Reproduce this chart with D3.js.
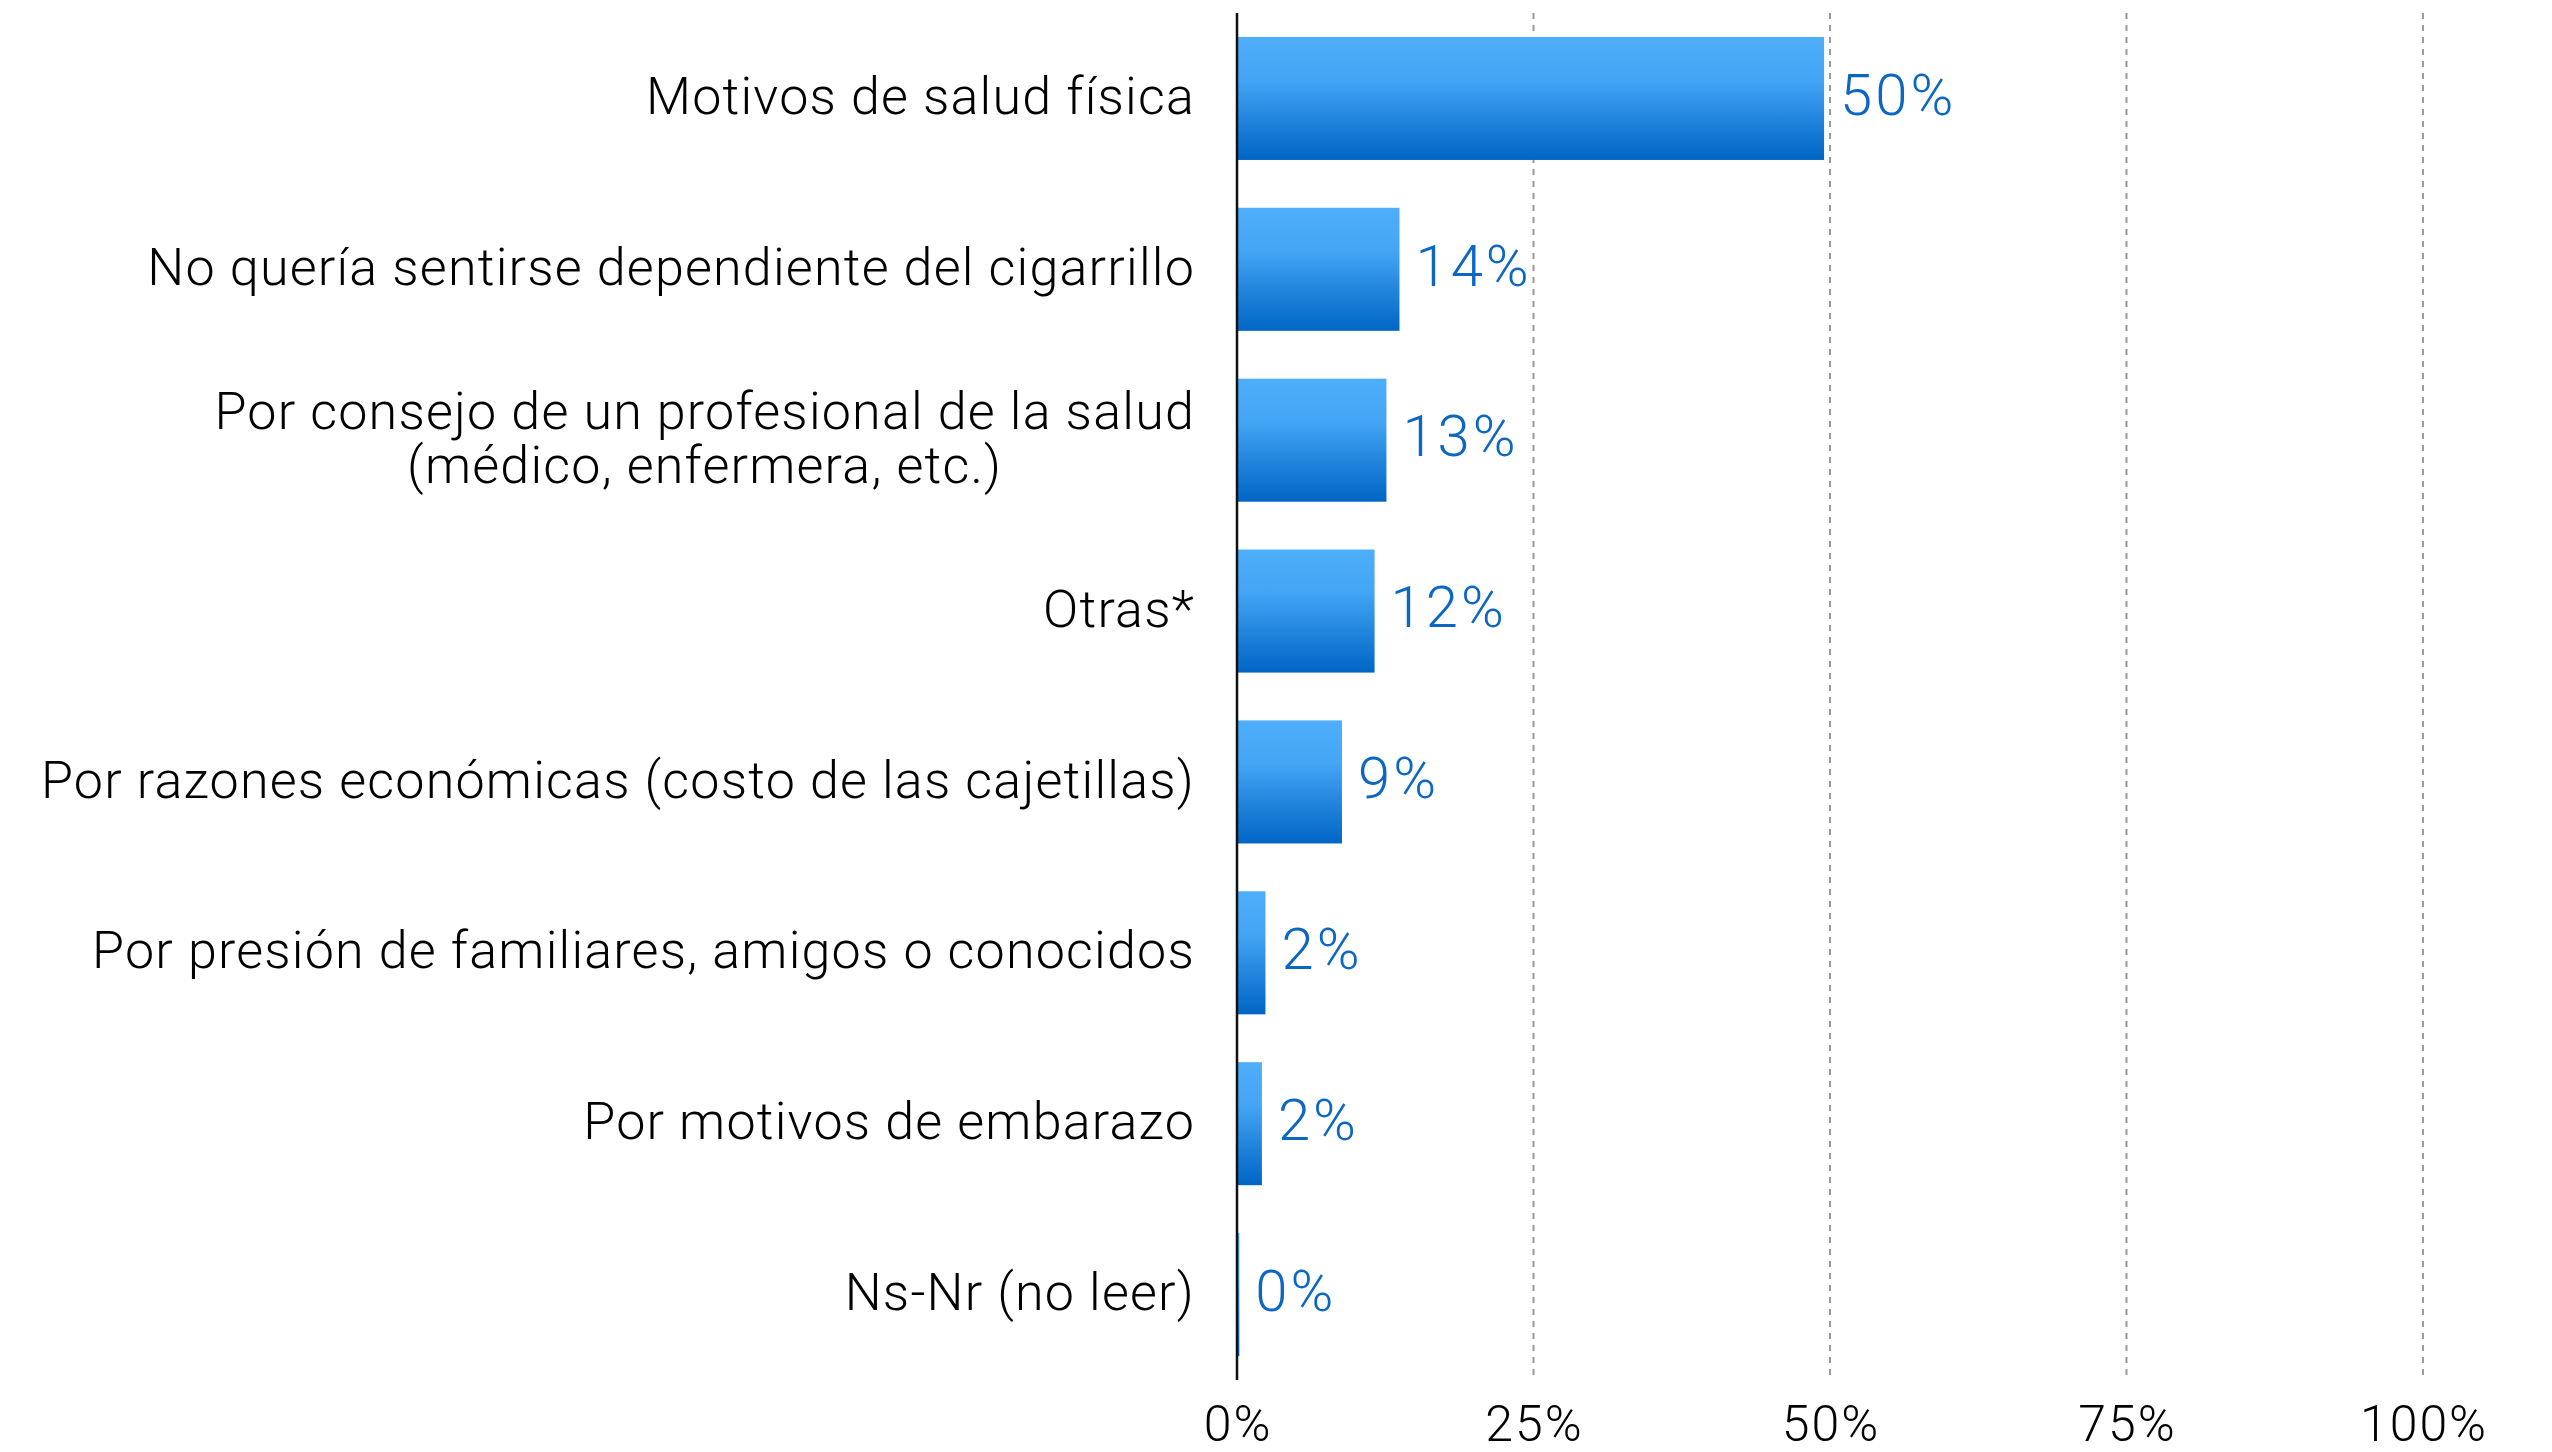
<!DOCTYPE html>
<html>
<head>
<meta charset="utf-8">
<script src="https://cdn.jsdelivr.net/npm/d3@7"></script>
<style>
  html, body { margin: 0; padding: 0; background: #fff; }
  svg { display: block; }
  text { font-family: Roboto, "Liberation Sans", sans-serif; font-weight: 300; }
</style>
</head>
<body>
<svg id="chart"></svg>
<script>
// reasons for quitting smoking
const categories = [
    ['Motivos de salud física'],
    ['No quería sentirse dependiente del cigarrillo'],
    ['Por consejo de un profesional de la salud', '(médico, enfermera, etc.)'],
    ['Otras*'],
    ['Por razones económicas (costo de las cajetillas)'],
    ['Por presión de familiares, amigos o conocidos'],
    ['Por motivos de embarazo'],
    ['Ns-Nr (no leer)']
];
const values = [49.5, 13.7, 12.6, 11.6, 8.85, 2.4, 2.1, 0.2];
const valueLabels = ['50%', '14%', '13%', '12%', '9%', '2%', '2%', '0%'];
const ticks = [0, 25, 50, 75, 100];

const width = 2552, height = 1452;
const svg = d3.select('#chart').attr('width', width).attr('height', height);

const x = d3.scaleLinear().domain([0, 100]).range([1237, 2423]);
const y = d3.scaleBand()
    .domain(d3.range(categories.length))
    .range([13, 1380])
    .paddingInner(0.28)
    .paddingOuter(0.14);

// gradient for the bars
const defs = svg.append('defs');
const grad = defs.append('linearGradient').attr('id', 'barGrad')
    .attr('x1', 0).attr('y1', 0).attr('x2', 0).attr('y2', 1);
grad.append('stop').attr('offset', '0%').attr('stop-color', '#4eaefa');
grad.append('stop').attr('offset', '35%').attr('stop-color', '#43a5f4');
grad.append('stop').attr('offset', '100%').attr('stop-color', '#0065c5');

// dashed gridlines
svg.append('g').selectAll('line').data(ticks.slice(1)).join('line')
    .attr('x1', d => x(d)).attr('x2', d => x(d))
    .attr('y1', y.range()[0]).attr('y2', y.range()[1])
    .attr('stroke', '#9a9a9a')
    .attr('stroke-width', 2)
    .attr('stroke-dasharray', '6,6');

// bars
svg.append('g').selectAll('rect').data(values).join('rect')
    .attr('x', x(0))
    .attr('y', (d, i) => y(i))
    .attr('width', d => x(d) - x(0))
    .attr('height', y.bandwidth())
    .attr('fill', 'url(#barGrad)');

// axis line
svg.append('line')
    .attr('x1', x(0)).attr('x2', x(0))
    .attr('y1', y.range()[0]).attr('y2', y.range()[1])
    .attr('stroke', '#111').attr('stroke-width', 2.5);

// value labels
svg.append('g').selectAll('text').data(values).join('text')
    .attr('x', d => x(d) + 16)
    .attr('y', (d, i) => y(i) + y.bandwidth() / 2)
    .attr('dy', '0.28em')
    .attr('font-size', 58)
    .attr('letter-spacing', 3)
    .attr('fill', '#0b67c2')
    .text((d, i) => valueLabels[i]);

// category labels, right aligned as a block, multi-line centred
const labelRight = x(0) - 42;
const catFont = 52;
const lineGap = 54;
const catG = svg.append('g');
categories.forEach((lines, i) => {
    const cy = y(i) + y.bandwidth() / 2;
    const t = catG.append('text')
        .attr('font-size', catFont)
        .attr('letter-spacing', 1.2)
        .attr('fill', '#000');
    lines.forEach((ln, j) => {
        t.append('tspan')
            .attr('y', cy + (j - (lines.length - 1) / 2) * lineGap)
            .attr('dy', '0.3em')
            .text(ln);
    });
    // measure widest line to place block
    const spans = t.selectAll('tspan').nodes();
    const widths = spans.map(s => s.getComputedTextLength());
    const maxW = d3.max(widths);
    spans.forEach(s => {
        d3.select(s).attr('x', labelRight - maxW / 2).attr('text-anchor', 'middle');
    });
});

// x tick labels
svg.append('g').selectAll('text').data(ticks).join('text')
    .attr('x', d => x(d) + 1)
    .attr('y', 1441)
    .attr('text-anchor', 'middle')
    .attr('font-size', 50)
    .attr('letter-spacing', 2)
    .attr('fill', '#000')
    .text(d => d + '%');
</script>
</body>
</html>
